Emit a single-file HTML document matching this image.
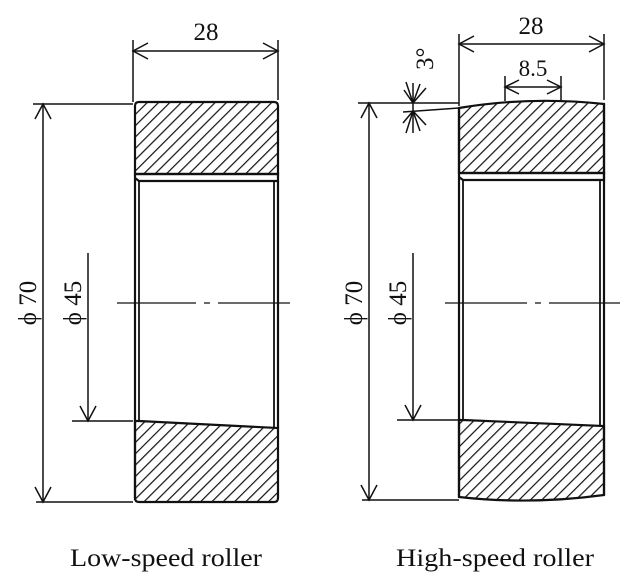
<!DOCTYPE html>
<html><head><style>
html,body{margin:0;padding:0;background:#fff;}
svg{display:block;}
text{font-family:"Liberation Serif","Times New Roman",Times,serif;fill:#111;}
</style></head><body>
<svg width="625" height="587" viewBox="0 0 625 587" xmlns="http://www.w3.org/2000/svg">
<defs>
<pattern id="h" patternUnits="userSpaceOnUse" width="8" height="8" patternTransform="rotate(45)">
<line x1="0" y1="0" x2="0" y2="8" stroke="#111" stroke-width="2.4"/>
</pattern>
</defs>
<g stroke="#111" fill="none" stroke-width="1.5">
<!-- LEFT ROLLER -->
<path d="M135 106 Q135 102 139 102 L274 102 Q278 102 278 106 L278 174 L135 174 Z" fill="url(#h)" stroke-width="2.2"/>
<path d="M135 174 L278 174 L278 181 L139 181 L135 178" stroke-width="2.2"/>
<line x1="135" y1="174" x2="135" y2="500" stroke-width="2.2"/>
<line x1="139" y1="181" x2="139" y2="421" stroke-width="1.8"/>
<line x1="278" y1="181" x2="278" y2="428" stroke-width="2.2"/>
<line x1="274" y1="181" x2="274" y2="428" stroke-width="1.8"/>
<path d="M135 421 L139 421 L278 428 L278 498 Q278 502 274 502 L139 502 Q135 502 135 498 Z" fill="url(#h)" stroke-width="2.2"/>
<!-- dims left -->
<line x1="133" y1="40" x2="133" y2="102"/>
<line x1="278" y1="40" x2="278" y2="100"/>
<line x1="133" y1="51" x2="278" y2="51"/>
<path d="M148 43 L133 51 L148 59 M263 43 L278 51 L263 59"/>
<line x1="33" y1="104" x2="133" y2="104"/>
<line x1="36" y1="502" x2="133" y2="502"/>
<line x1="43" y1="104" x2="43" y2="502"/>
<path d="M35 119 L43 104 L51 119 M35 487 L43 502 L51 487"/>
<line x1="72" y1="421" x2="133" y2="421"/>
<line x1="88" y1="253" x2="88" y2="421"/>
<path d="M80 406 L88 421 L96 406"/>
<path d="M117 303 L196 303 M204 303 L210 303 M218 303 L290 303" stroke-width="1.3"/>

<!-- RIGHT ROLLER -->
<path d="M459 108 Q530 96 604 104 L604 173 L459 173 Z" fill="url(#h)" stroke-width="2.2"/>
<path d="M459 173 L604 173 L604 180 L463 180 L459 177" stroke-width="2.2"/>
<line x1="459" y1="108" x2="459" y2="497" stroke-width="2.2"/>
<line x1="463" y1="180" x2="463" y2="420" stroke-width="1.8"/>
<line x1="604" y1="104" x2="604" y2="495" stroke-width="2.2"/>
<line x1="600" y1="180" x2="600" y2="426" stroke-width="1.8"/>
<path d="M459 420 L463 420 L604 426 L604 495 Q530 505 459 497 Z" fill="url(#h)" stroke-width="2.2"/>
<!-- dims right -->
<line x1="459" y1="34" x2="459" y2="106"/>
<line x1="604" y1="34" x2="604" y2="100"/>
<line x1="459" y1="44" x2="604" y2="44"/>
<path d="M474 36 L459 44 L474 52 M589 36 L604 44 L589 52"/>
<line x1="505" y1="76" x2="505" y2="101"/>
<line x1="561" y1="76" x2="561" y2="100"/>
<line x1="505" y1="87" x2="561" y2="87"/>
<path d="M519 80 L505 87 L519 94 M547 80 L561 87 L547 94"/>
<line x1="358" y1="103" x2="459" y2="103"/>
<line x1="403" y1="112" x2="459" y2="108"/>
<path d="M406 82 L413 103 L420 84 M404 90 L413 103 L426 88"/>
<path d="M406 133 L413 111 L420 131 M403 123 L413 111 L426 125"/>
<line x1="413" y1="83" x2="413" y2="133"/>
<line x1="362" y1="500" x2="459" y2="500"/>
<line x1="369" y1="103" x2="369" y2="500"/>
<path d="M361 118 L369 103 L377 118 M361 485 L369 500 L377 485"/>
<line x1="397" y1="420" x2="459" y2="420"/>
<line x1="413" y1="253" x2="413" y2="420"/>
<path d="M405 405 L413 420 L421 405"/>
<path d="M445 303 L527 303 M535 303 L541 303 M549 303 L620 303" stroke-width="1.3"/>
</g>
<g font-size="25" font-family="Liberation Serif, serif">
<text x="206" y="40" text-anchor="middle">28</text>
<text x="531" y="34" text-anchor="middle">28</text>
<text x="533" y="76" text-anchor="middle" font-size="23">8.5</text>
<text transform="translate(433,70) rotate(-90)" text-anchor="start">3°</text>
<text transform="translate(36,303) rotate(-90)" text-anchor="middle">ϕ 70</text>
<text transform="translate(81,303) rotate(-90)" text-anchor="middle">ϕ 45</text>
<text transform="translate(362,303) rotate(-90)" text-anchor="middle">ϕ 70</text>
<text transform="translate(406,303) rotate(-90)" text-anchor="middle">ϕ 45</text>
<text x="70" y="566" font-size="25" textLength="192" lengthAdjust="spacingAndGlyphs">Low-speed roller</text>
<text x="396" y="566" font-size="25" textLength="198" lengthAdjust="spacingAndGlyphs">High-speed roller</text>
</g>
</svg>
</body></html>
